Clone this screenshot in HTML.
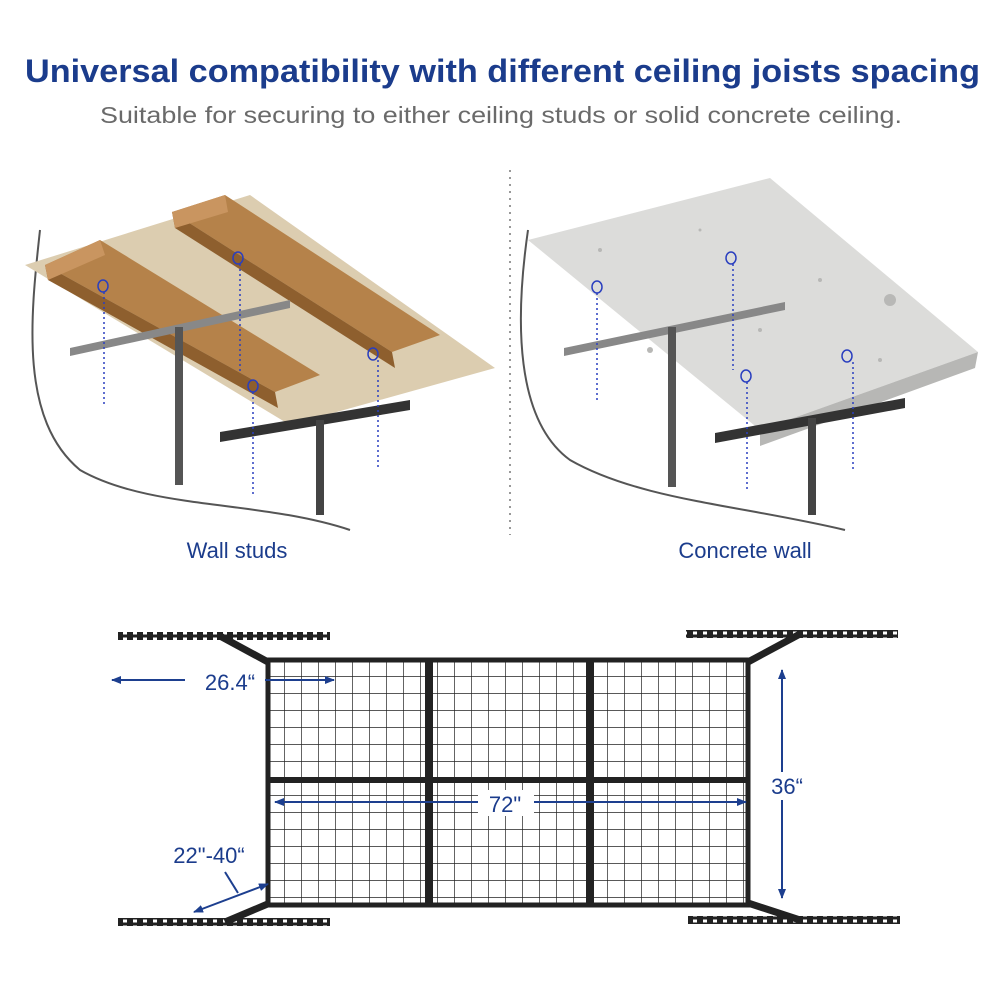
<!DOCTYPE html>
<html><head><meta charset="utf-8"><style>
html,body{margin:0;padding:0;background:#fff;}
body{width:1000px;height:1000px;overflow:hidden;font-family:"Liberation Sans",sans-serif;}
</style></head><body>
<svg width="1000" height="1000" viewBox="0 0 1000 1000" xmlns="http://www.w3.org/2000/svg">
<defs>
<pattern id="grid" x="268" y="660" width="17" height="17" patternUnits="userSpaceOnUse">
<path d="M17 0V17M0 17H17" stroke="#222" stroke-width="1.4" fill="none"/>
</pattern>
<pattern id="holes" width="10" height="6" patternUnits="userSpaceOnUse">
<rect x="3" y="1.5" width="4" height="3" fill="#fff"/>
</pattern>
<marker id="ar" markerWidth="10" markerHeight="10" refX="9" refY="5" orient="auto-start-reverse" markerUnits="userSpaceOnUse">
<path d="M0,1 L10,5 L0,9 Z" fill="#1d3f8f"/>
</marker>
</defs>
<text x="25" y="82" textLength="955" lengthAdjust="spacingAndGlyphs" font-size="32" font-weight="bold" fill="#1b3c8c">Universal compatibility with different ceiling joists spacing</text>
<text x="100" y="123" textLength="802" lengthAdjust="spacingAndGlyphs" font-size="23" fill="#6a6a6a">Suitable for securing to either ceiling studs or solid concrete ceiling.</text>
<line x1="510" y1="170" x2="510" y2="535" stroke="#999" stroke-width="2" stroke-dasharray="2,5"/>

<!-- LEFT -->
<path d="M40 230 C30 320 20 420 80 470 C150 510 260 500 350 530" stroke="#555" stroke-width="2" fill="none"/>
<polygon points="25,265 250,195 495,368 290,425" fill="#dccdb0"/>
<polygon points="45,265 100,240 320,375 275,392" fill="#b5824a"/>
<polygon points="48,280 45,265 275,392 278,408" fill="#8e5f2e"/>
<polygon points="45,265 100,240 105,255 48,280" fill="#c99560"/>
<polygon points="172,212 225,195 440,335 392,352" fill="#b5824a"/>
<polygon points="175,228 172,212 392,352 395,368" fill="#8e5f2e"/>
<polygon points="172,212 225,195 228,212 175,228" fill="#c99560"/>
<polygon points="70,348 290,300 290,308 70,356" fill="#888"/>
<rect x="175" y="327" width="8" height="158" fill="#555"/>
<polygon points="220,432 410,400 410,410 220,442" fill="#333"/>
<rect x="316" y="420" width="8" height="95" fill="#444"/>
<g fill="none" stroke="#2a3fbf" stroke-width="1.5">
<ellipse cx="103" cy="286" rx="5" ry="6"/><ellipse cx="238" cy="258" rx="5" ry="6"/>
<ellipse cx="373" cy="354" rx="5" ry="6"/><ellipse cx="253" cy="386" rx="5" ry="6"/>
</g>
<g stroke="#2a3fbf" stroke-width="1.5" stroke-dasharray="2,3">
<line x1="104" y1="292" x2="104" y2="405"/><line x1="240" y1="264" x2="240" y2="372"/>
<line x1="378" y1="360" x2="378" y2="470"/><line x1="253" y1="392" x2="253" y2="495"/>
</g>
<text x="237" y="558" text-anchor="middle" font-size="22" fill="#1b3c8c">Wall studs</text>

<!-- RIGHT -->
<path d="M528 230 C515 320 515 420 570 460 C640 500 740 505 845 530" stroke="#555" stroke-width="2" fill="none"/>
<polygon points="528,240 770,178 978,352 760,430" fill="#dcdcda"/>
<polygon points="760,430 978,352 975,368 760,446" fill="#b7b7b5"/>
<g fill="#b8b8b6"><circle cx="600" cy="250" r="2"/><circle cx="700" cy="230" r="1.5"/><circle cx="820" cy="280" r="2"/><circle cx="890" cy="300" r="6"/><circle cx="650" cy="350" r="3"/><circle cx="760" cy="330" r="2"/><circle cx="880" cy="360" r="2"/></g>
<polygon points="564,348 785,302 785,310 564,356" fill="#888"/>
<rect x="668" y="327" width="8" height="160" fill="#555"/>
<polygon points="715,433 905,398 905,408 715,443" fill="#333"/>
<rect x="808" y="418" width="8" height="97" fill="#444"/>
<g fill="none" stroke="#2a3fbf" stroke-width="1.5">
<ellipse cx="597" cy="287" rx="5" ry="6"/><ellipse cx="731" cy="258" rx="5" ry="6"/>
<ellipse cx="847" cy="356" rx="5" ry="6"/><ellipse cx="746" cy="376" rx="5" ry="6"/>
</g>
<g stroke="#2a3fbf" stroke-width="1.5" stroke-dasharray="2,3">
<line x1="597" y1="293" x2="597" y2="400"/><line x1="733" y1="264" x2="733" y2="370"/>
<line x1="853" y1="362" x2="853" y2="470"/><line x1="747" y1="382" x2="747" y2="490"/>
</g>
<text x="745" y="558" text-anchor="middle" font-size="22" fill="#1b3c8c">Concrete wall</text>

<!-- SHELF -->
<rect x="268" y="660" width="480" height="245" fill="url(#grid)" stroke="#222" stroke-width="5"/>
<rect x="425" y="660" width="8" height="245" fill="#222"/>
<rect x="586" y="660" width="8" height="245" fill="#222"/>
<rect x="268" y="777" width="480" height="6" fill="#222"/>
<g fill="#222">
<rect x="118" y="632" width="212" height="8"/><rect x="686" y="630" width="212" height="8"/>
<rect x="118" y="918" width="212" height="8"/><rect x="688" y="916" width="212" height="8"/>
</g>
<g fill="url(#holes)">
<rect x="118" y="632" width="212" height="8"/><rect x="686" y="630" width="212" height="8"/>
<rect x="118" y="918" width="212" height="8"/><rect x="688" y="916" width="212" height="8"/>
</g>
<g stroke="#222" stroke-width="7" fill="none">
<path d="M220 636 L268 662"/><path d="M800 634 L748 662"/>
<path d="M225 922 L270 903"/><path d="M800 920 L748 903"/>
</g>
<g stroke="#1d3f8f" stroke-width="2" fill="none">
<line x1="112" y1="680" x2="334" y2="680" marker-start="url(#ar)" marker-end="url(#ar)"/>
<line x1="275" y1="802" x2="746" y2="802" marker-start="url(#ar)" marker-end="url(#ar)"/>
<line x1="782" y1="670" x2="782" y2="898" marker-start="url(#ar)" marker-end="url(#ar)"/>
<line x1="194" y1="912" x2="268" y2="884" marker-start="url(#ar)" marker-end="url(#ar)"/>
<line x1="225" y1="872" x2="238" y2="893"/>
</g>
<rect x="185" y="667" width="80" height="28" fill="#fff"/>
<text x="230" y="690" text-anchor="middle" font-size="22" fill="#1b3c8c">26.4“</text>
<rect x="478" y="790" width="56" height="26" fill="#fff"/>
<text x="505" y="812" text-anchor="middle" font-size="22" fill="#1b3c8c">72"</text>
<rect x="764" y="772" width="44" height="28" fill="#fff"/>
<text x="787" y="794" text-anchor="middle" font-size="22" fill="#1b3c8c">36“</text>
<text x="209" y="863" text-anchor="middle" font-size="22" fill="#1b3c8c">22"-40“</text>
</svg>
</body></html>
